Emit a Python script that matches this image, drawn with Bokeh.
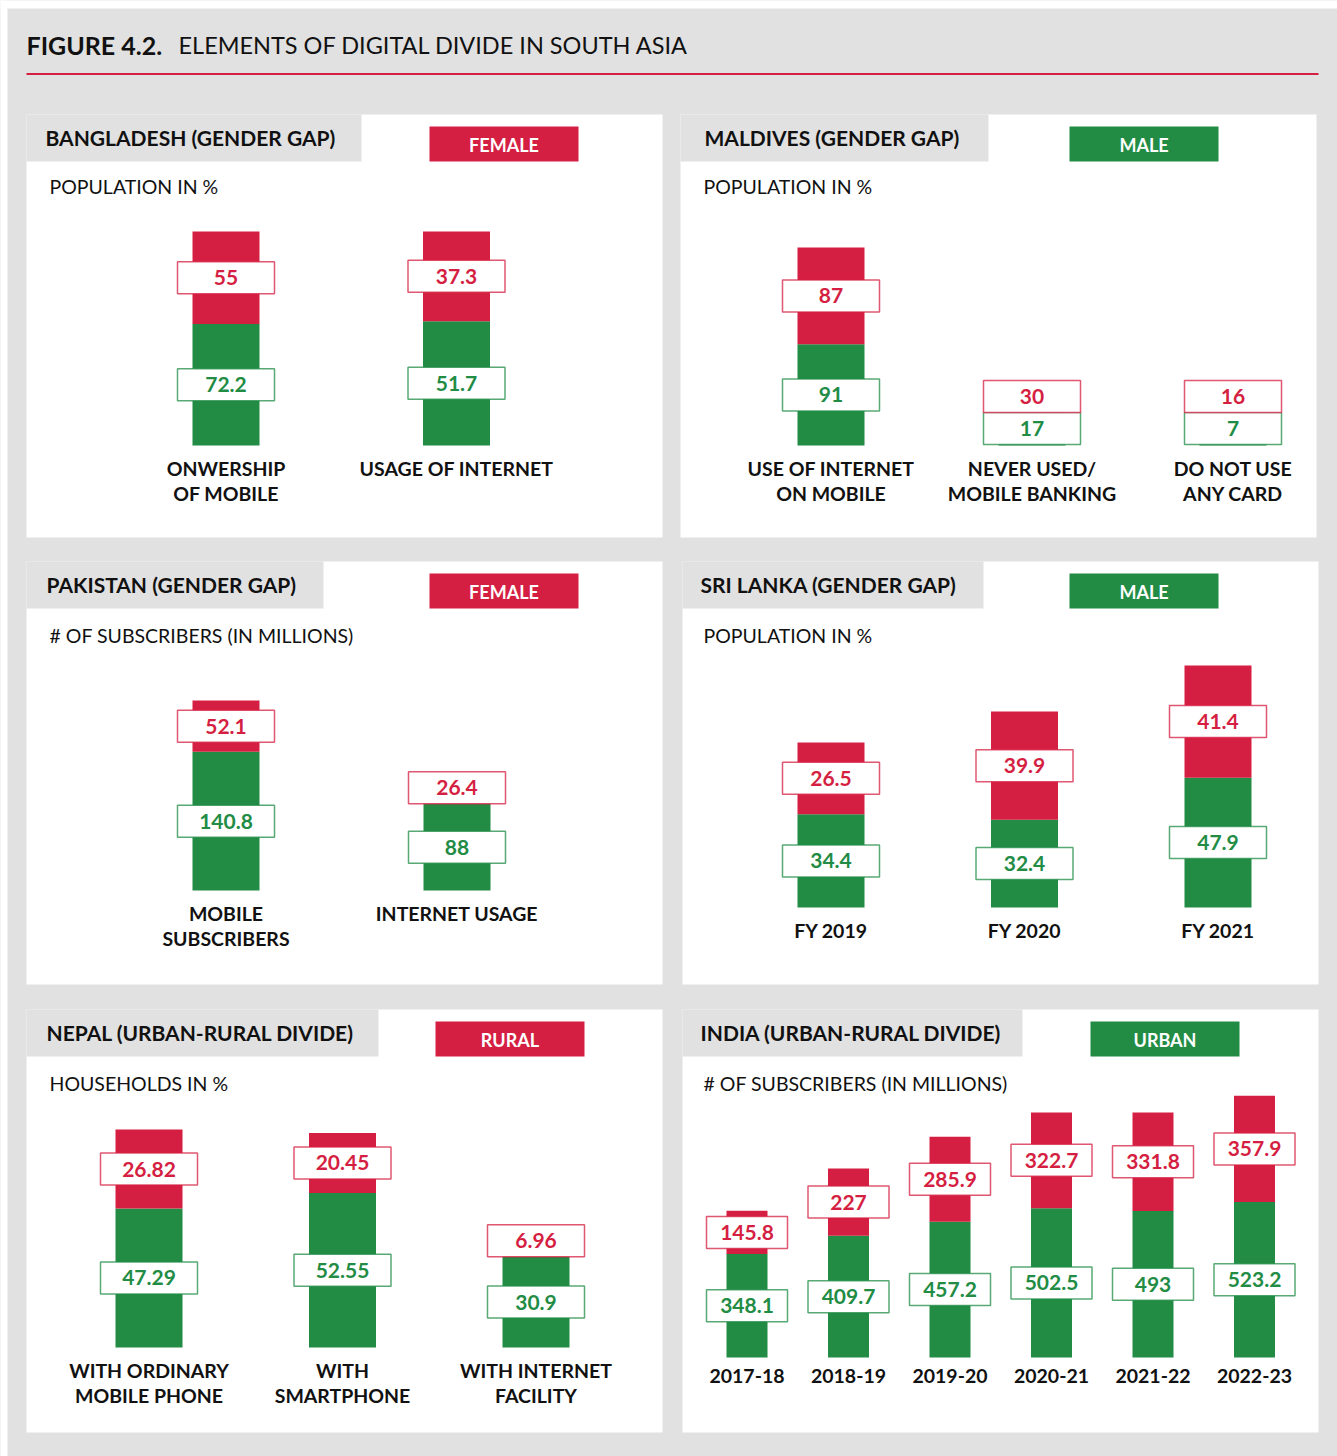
from bokeh.plotting import figure
from bokeh.models import Range1d, ColumnDataSource
from bokeh.core.properties import value
from bokeh.embed import file_html
from bokeh.resources import INLINE

RED = "#d51f42"
GREEN = "#228c45"
BG = "#e1e1e1"
FONT = "Lato"

# ---------------- data ----------------
bd_categories = ["ONWERSHIP\nOF MOBILE", "USAGE OF INTERNET"]
bd_female = [55, 37.3]
bd_male = [72.2, 51.7]

mv_categories = ["USE OF INTERNET\nON MOBILE", "NEVER USED/\nMOBILE BANKING", "DO NOT USE\nANY CARD"]
mv_female = [87, 30, 16]
mv_male = [91, 17, 7]

pk_categories = ["MOBILE\nSUBSCRIBERS", "INTERNET USAGE"]
pk_female = [52.1, 26.4]
pk_male = [140.8, 88]

lk_categories = ["FY 2019", "FY 2020", "FY 2021"]
lk_female = [26.5, 39.9, 41.4]
lk_male = [34.4, 32.4, 47.9]

np_categories = ["WITH ORDINARY\nMOBILE PHONE", "WITH\nSMARTPHONE", "WITH INTERNET\nFACILITY"]
np_rural = [26.82, 20.45, 6.96]
np_urban = [47.29, 52.55, 30.9]

in_categories = ["2017-18", "2018-19", "2019-20", "2020-21", "2021-22", "2022-23"]
in_rural = [145.8, 227, 285.9, 322.7, 331.8, 357.9]
in_urban = [348.1, 409.7, 457.2, 502.5, 493, 523.2]

# ---------------- layout (page pixel coordinates) ----------------
W, H = 1337, 1456
X0, Y0 = 0, 0

p = figure(width=W, height=H, x_range=Range1d(X0, X0 + W), y_range=Range1d(Y0 + H, Y0),
           output_backend="svg", toolbar_location=None, min_border=0,
           x_axis_location=None, y_axis_location=None,
           background_fill_color=BG, border_fill_color=BG, outline_line_color=None)
p.grid.visible = False

# thin white page strips (top / left)
p.quad(left=[0], right=[7], top=[0], bottom=[H], fill_color="white", line_color=None)
p.quad(left=[0], right=[W], top=[0], bottom=[8], fill_color="white", line_color=None)

# title
p.text(x=[26], y=[44], text=["FIGURE 4.2."], text_font=value(FONT), text_font_style="bold",
       text_font_size="25px", text_color="#111111", text_baseline="middle", text_align="left")
p.text(x=[178], y=[44], text=["ELEMENTS OF DIGITAL DIVIDE IN SOUTH ASIA"], text_font=value(FONT),
       text_font_size="23.5px", text_color="#111111", text_baseline="middle", text_align="left")
p.segment(x0=[26], y0=[73.5], x1=[1318], y1=[73.5], line_color=RED, line_width=2)

panels = [
    dict(key="bd", box=(26, 114, 662, 537), tab=(361, 161), title="BANGLADESH (GENDER GAP)", tpos=(45, 137),
         legend=("FEMALE", RED, 429, 578, 126, 161), sub="POPULATION IN %", spos=(49, 186),
         c0=225.5, dx=230.5, base=445, scale=2.14, norm=True, bw=67, lw=97,
         cats=bd_categories, top=bd_female, bottom=bd_male),
    dict(key="mv", box=(680, 114, 1316, 537), tab=(988, 161), title="MALDIVES (GENDER GAP)", tpos=(704, 137),
         legend=("MALE", GREEN, 1069, 1218, 126, 161), sub="POPULATION IN %", spos=(703, 186),
         c0=830.5, dx=201, base=445, scale=1.112, norm=False, bw=67, lw=97,
         cats=mv_categories, top=mv_female, bottom=mv_male),
    dict(key="pk", box=(26, 561, 662, 984), tab=(323, 608), title="PAKISTAN (GENDER GAP)", tpos=(46, 584),
         legend=("FEMALE", RED, 429, 578, 573, 608), sub="# OF SUBSCRIBERS (IN MILLIONS)", spos=(49, 635),
         c0=225.5, dx=231, base=890, scale=0.985, norm=False, bw=67, lw=97,
         cats=pk_categories, top=pk_female, bottom=pk_male),
    dict(key="lk", box=(682, 561, 1318, 984), tab=(983, 608), title="SRI LANKA (GENDER GAP)", tpos=(700, 584),
         legend=("MALE", GREEN, 1069, 1218, 573, 608), sub="POPULATION IN %", spos=(703, 635),
         c0=830.5, dx=193.5, base=907, scale=2.71, norm=False, bw=67, lw=97,
         cats=lk_categories, top=lk_female, bottom=lk_male),
    dict(key="np", box=(26, 1009, 662, 1432), tab=(378, 1056), title="NEPAL (URBAN-RURAL DIVIDE)", tpos=(46, 1032),
         legend=("RURAL", RED, 435, 584, 1021, 1056), sub="HOUSEHOLDS IN %", spos=(49, 1083),
         c0=148.5, dx=193.5, base=1347, scale=2.94, norm=False, bw=67, lw=97,
         cats=np_categories, top=np_rural, bottom=np_urban),
    dict(key="in", box=(682, 1009, 1318, 1432), tab=(1022, 1056), title="INDIA (URBAN-RURAL DIVIDE)", tpos=(700, 1032),
         legend=("URBAN", GREEN, 1090, 1239, 1021, 1056), sub="# OF SUBSCRIBERS (IN MILLIONS)", spos=(703, 1083),
         c0=746.5, dx=101.5, base=1357, scale=0.297, norm=False, bw=41, lw=81,
         cats=in_categories, top=in_rural, bottom=in_urban),
]

BOX_H = 32

for pn in panels:
    x0, y0, x1, y1 = pn["box"]
    tx1, ty1 = pn["tab"]
    # white L-shaped card
    p.quad(left=[x0], right=[x1], top=[y0], bottom=[y1], fill_color="white", line_color=None)
    p.quad(left=[x0], right=[tx1], top=[y0], bottom=[ty1], fill_color=BG, line_color=None)
    p.text(x=[pn["tpos"][0]], y=[pn["tpos"][1]], text=[pn["title"]], text_font=value(FONT),
           text_font_style="bold", text_font_size="21px", text_color="#111111",
           text_baseline="middle", text_align="left")
    lt, lc, lx0, lx1, ly0, ly1 = pn["legend"]
    p.quad(left=[lx0], right=[lx1], top=[ly0], bottom=[ly1], fill_color=lc, line_color=None)
    p.text(x=[(lx0 + lx1) / 2], y=[(ly0 + ly1) / 2 + 1], text=[lt], text_font=value(FONT),
           text_font_style="bold", text_font_size="18px", text_color="white",
           text_baseline="middle", text_align="center")
    p.text(x=[pn["spos"][0]], y=[pn["spos"][1]], text=[pn["sub"]], text_font=value(FONT),
           text_font_size="19.5px", text_color="#111111", text_baseline="middle", text_align="left")

    # panel data ranges, mapped through Bokeh scales
    s, B, c0, dx = pn["scale"], pn["base"], pn["c0"], pn["dx"]
    xr, yr = pn["key"] + "_x", pn["key"] + "_y"
    p.extra_x_ranges[xr] = Range1d((X0 - c0) / dx, (X0 + W - c0) / dx)
    p.extra_y_ranges[yr] = Range1d((B - (Y0 + H)) / s, (B - Y0) / s)

    n = len(pn["cats"])
    idx = list(range(n))
    if pn["norm"]:
        g = [100.0 * b / (a + b) for a, b in zip(pn["top"], pn["bottom"])]
        r = [100.0 * a / (a + b) for a, b in zip(pn["top"], pn["bottom"])]
    else:
        g = list(pn["bottom"])
        r = list(pn["top"])
    gr = [a + b for a, b in zip(g, r)]
    half = 16.0 / s
    g_c = [max(v / 2.0, 17.0 / s) for v in g]
    r_c = [max(gv + rv / 2.0, gv + half, gc + 2 * half) for gv, rv, gc in zip(g, r, g_c)]

    src = ColumnDataSource(dict(x=idx, g=g, gr=gr, g_c=g_c, r_c=r_c,
                                g_lab=[f"{v:g}" for v in pn["bottom"]],
                                r_lab=[f"{v:g}" for v in pn["top"]],
                                cat=pn["cats"]))
    bw = pn["bw"] / dx
    p.vbar(x="x", width=bw, bottom=0, top="g", source=src, fill_color=GREEN, line_color=None,
           x_range_name=xr, y_range_name=yr)
    p.vbar(x="x", width=bw, bottom="g", top="gr", source=src, fill_color=RED, line_color=None,
           x_range_name=xr, y_range_name=yr)
    for col, lab, colr in (("g_c", "g_lab", GREEN), ("r_c", "r_lab", RED)):
        p.rect(x="x", y=col, width=pn["lw"], height=BOX_H, width_units="screen", height_units="screen",
               source=src, fill_color="white", line_color=colr, line_alpha=0.75, line_width=1.5,
               x_range_name=xr, y_range_name=yr)
        p.text(x="x", y=col, text=lab, source=src, text_font=value(FONT), text_font_style="bold",
               text_font_size="21px", text_color=colr, text_baseline="middle", text_align="center",
               x_range_name=xr, y_range_name=yr)
    # category labels below baseline
    p.text(x="x", y=-(11.0 / s), text="cat", source=src, text_font=value(FONT), text_font_style="bold",
           text_font_size="19.5px", text_color="#111111", text_baseline="top", text_align="center",
           text_line_height=1.1, x_range_name=xr, y_range_name=yr)

open("out.html", "w").write(file_html(p, INLINE))
